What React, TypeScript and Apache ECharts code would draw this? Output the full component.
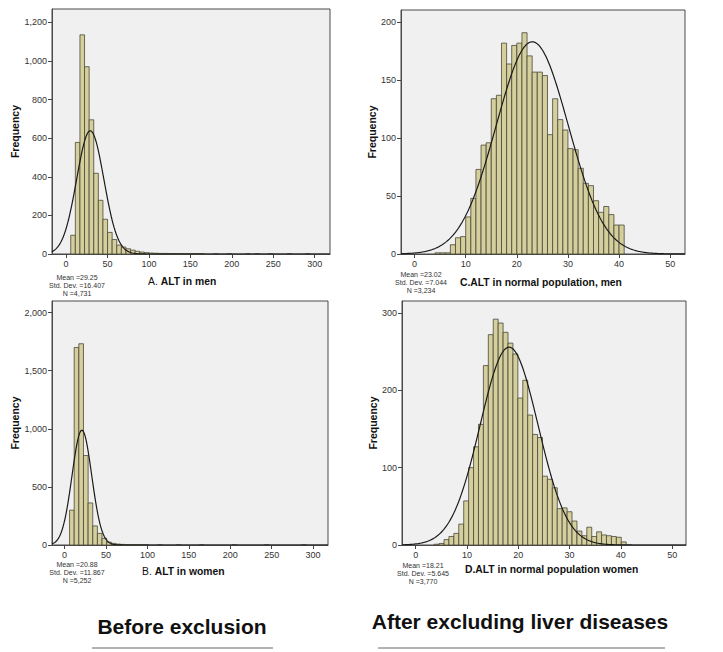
import React, { useEffect, useRef } from "react";
import * as echarts from "echarts";

const FONT = '"Liberation Sans", Arial, Helvetica, sans-serif';

// ---- Histogram counts (one entry per bin) ----
// A. ALT in men, before exclusion
const binStartA = 5.7;
const binWidthA = 5.55;
const countsA = [
  97, 578, 1135, 970, 695, 418, 278, 180, 112, 75,
  46, 36, 27, 20, 14, 10, 7, 5, 4, 3,
  3, 2, 2, 2, 1, 1, 1, 1, 1, 0,
  0, 1, 0, 0, 1, 0, 0, 0, 1, 0,
  1, 0, 0, 1, 0, 0, 0, 1, 0, 0,
  0, 1, 0,
];

// B. ALT in women, before exclusion
const binStartB = 6.0;
const binWidthB = 5.6;
const countsB = [
  300, 1700, 1732, 770, 362, 164, 100, 57, 25, 14,
  8, 5, 3, 2, 2, 1, 1, 0, 0, 1,
  0, 0, 0, 1, 0, 0, 0, 0, 1, 0,
  0, 0, 0, 0, 0, 1, 0, 0, 0, 0,
  0, 0, 1, 0, 0, 0, 0, 0, 0, 0,
  1,
];

// C. ALT in normal population, men
const binStartC = 4;
const binWidthC = 1;
const countsC = [
  1, 1, 1, 8, 14, 15, 32, 48, 73, 94,
  96, 134, 137, 182, 164, 180, 182, 191, 171, 157,
  157, 154, 103, 134, 116, 107, 91, 90, 74, 61,
  59, 46, 36, 41, 34, 25, 25,
];

// D. ALT in normal population, women
const binStartD = 3.6;
const binWidthD = 0.96;
const countsD = [
  1, 2, 7, 11, 15, 27, 57, 100, 127, 156,
  232, 272, 292, 287, 275, 261, 247, 190, 213, 168,
  143, 139, 89, 85, 74, 47, 48, 43, 31, 18,
  12, 23, 11, 17, 13, 12, 11, 10, 4,
];

// Summary statistics printed under each histogram
const statsA = { mean: 29.25, sd: 16.407, n: 4731 };
const statsB = { mean: 20.88, sd: 11.867, n: 5252 };
const statsC = { mean: 23.02, sd: 7.044, n: 3234 };
const statsD = { mean: 18.21, sd: 5.645, n: 3770 };

// Tick labels
const xTicksWide = [0, 50, 100, 150, 200, 250, 300];
const xTicksNarrow = [0, 10, 20, 30, 40, 50];
const yTicksA = [0, 200, 400, 600, 800, 1000, 1200];
const yTicksB = [0, 500, 1000, 1500, 2000];
const yTicksC = [0, 50, 100, 150, 200];
const yTicksD = [0, 100, 200, 300];

// Titles
const titleA = ["A. ", "ALT in men"];
const titleB = ["B. ", "ALT in women"];
const titleC = ["", "C.ALT in normal population, men"];
const titleD = ["", "D.ALT in normal population women"];
const groupLeft = "Before exclusion";
const groupRight = "After excluding liver diseases";

const fmtNum = (v: number) => v.toLocaleString("en-US");

const panels = [
  {
    counts: countsA, start: binStartA, width: binWidthA, stats: statsA,
    xMin: -16.9, xMax: 318.4, yMax: 1269, xTicks: xTicksWide, yTicks: yTicksA,
    grid: { left: 52, top: 9, width: 278, height: 245 }, nameGap: 22,
    title: titleA, titlePos: [148, 281], statsPos: [77, 277],
  },
  {
    counts: countsB, start: binStartB, width: binWidthB, stats: statsB,
    xMin: -15.2, xMax: 318.0, yMax: 2100, xTicks: xTicksWide, yTicks: yTicksB,
    grid: { left: 52, top: 301, width: 276, height: 244 }, nameGap: 24,
    title: titleB, titlePos: [142, 571], statsPos: [77, 564],
  },
  {
    counts: countsC, start: binStartC, width: binWidthC, stats: statsC,
    xMin: -2.66, xMax: 52.9, yMax: 210.6, xTicks: xTicksNarrow, yTicks: yTicksC,
    grid: { left: 401, top: 10, width: 284, height: 244 }, nameGap: 17,
    title: titleC, titlePos: [460, 282], statsPos: [421, 274],
  },
  {
    counts: countsD, start: binStartD, width: binWidthD, stats: statsD,
    xMin: -2.67, xMax: 52.7, yMax: 315.5, xTicks: xTicksNarrow, yTicks: yTicksD,
    grid: { left: 402, top: 301, width: 284, height: 244 }, nameGap: 18,
    title: titleD, titlePos: [465, 569], statsPos: [423, 565],
  },
];

// Fitted normal curve, scaled to counts per bin
function normalCurve(p: (typeof panels)[number]) {
  const { mean, sd, n } = p.stats;
  const scale = (n * p.width) / (sd * Math.sqrt(2 * Math.PI));
  const steps = 300;
  const pts: number[][] = [];
  for (let i = 0; i <= steps; i++) {
    const x = p.xMin + ((p.xMax - p.xMin) * i) / steps;
    const z = (x - mean) / sd;
    pts.push([x, scale * Math.exp(-0.5 * z * z)]);
  }
  return pts;
}

function buildOption() {
  const grid: any[] = [];
  const xAxis: any[] = [];
  const yAxis: any[] = [];
  const series: any[] = [];
  const graphic: any[] = [];

  panels.forEach((p, i) => {
    grid.push({
      ...p.grid,
      show: true,
      backgroundColor: "#f0f0f0",
      borderColor: "#4a4a4a",
      borderWidth: 1,
    });
    xAxis.push({
      type: "value",
      gridIndex: i,
      min: p.xMin,
      max: p.xMax,
      position: "bottom",
      axisLine: { show: true, onZero: false, lineStyle: { color: "#4a4a4a", width: 1 } },
      splitLine: { show: false },
      axisTick: { show: true, length: 4, customValues: p.xTicks, lineStyle: { color: "#444" } },
      axisLabel: {
        customValues: p.xTicks, fontSize: 9, color: "#333", margin: 5,
        fontFamily: FONT, formatter: fmtNum,
      },
    });
    yAxis.push({
      type: "value",
      gridIndex: i,
      min: 0,
      max: p.yMax,
      position: "left",
      name: "Frequency",
      nameLocation: "middle",
      nameGap: p.nameGap,
      nameTextStyle: { fontWeight: "bold", fontSize: 10.5, color: "#111", fontFamily: FONT },
      axisLine: { show: true, onZero: false, lineStyle: { color: "#4a4a4a", width: 1 } },
      splitLine: { show: false },
      axisTick: { show: true, length: 4, customValues: p.yTicks, lineStyle: { color: "#444" } },
      axisLabel: {
        customValues: p.yTicks, fontSize: 9, color: "#333", margin: 5,
        fontFamily: FONT, formatter: fmtNum,
      },
    });

    const bins = p.counts
      .map((c, k) => [p.start + k * p.width, p.start + (k + 1) * p.width, c])
      .filter((d) => d[2] > 0);

    series.push({
      type: "custom",
      xAxisIndex: i,
      yAxisIndex: i,
      data: bins,
      encode: { x: [0, 1], y: 2 },
      silent: true,
      z: 2,
      renderItem: (_params: any, api: any) => {
        const top = api.coord([api.value(0), api.value(2)]);
        const bottom = api.coord([api.value(1), 0]);
        return {
          type: "rect",
          shape: { x: top[0], y: top[1], width: bottom[0] - top[0], height: bottom[1] - top[1] },
          style: { fill: "#d4cf9c", stroke: "#4a4839", lineWidth: 0.8 },
        };
      },
    });
    series.push({
      type: "line",
      xAxisIndex: i,
      yAxisIndex: i,
      data: normalCurve(p),
      showSymbol: false,
      symbol: "none",
      silent: true,
      clip: true,
      z: 3,
      lineStyle: { color: "#1a1a1a", width: 1.2 },
    });

    // Panel caption
    const [plain, bold] = p.title;
    graphic.push({
      type: "text",
      x: p.titlePos[0],
      y: p.titlePos[1],
      scaleX: 0.9,
      style: {
        text: plain ? `{r|${plain}}{b|${bold}}` : `{b|${bold}}`,
        rich: {
          r: { fontSize: 11.5, fontFamily: FONT, fill: "#111" },
          b: { fontSize: 11.5, fontFamily: FONT, fontWeight: "bold", fill: "#111" },
        },
        align: "left",
        verticalAlign: "middle",
      },
    });

    // Summary statistics block
    const s = p.stats;
    graphic.push({
      type: "text",
      x: p.statsPos[0],
      y: p.statsPos[1] - 4,
      scaleX: 0.88,
      style: {
        text: `Mean =${s.mean.toFixed(2)}\nStd. Dev. =${s.sd}\nN =${fmtNum(s.n)}`,
        fontSize: 8,
        lineHeight: 8.2,
        fontFamily: FONT,
        fill: "#333",
        align: "center",
        verticalAlign: "top",
      },
    });
  });

  // Group labels with underlines
  graphic.push(
    {
      type: "text", x: 182, y: 626,
      style: { text: groupLeft, fontSize: 21, fontWeight: "bold", fontFamily: FONT, fill: "#111", align: "center", verticalAlign: "middle" },
    },
    {
      type: "text", x: 520, y: 621,
      style: { text: groupRight, fontSize: 21, fontWeight: "bold", fontFamily: FONT, fill: "#111", align: "center", verticalAlign: "middle" },
    },
    { type: "line", shape: { x1: 92, y1: 648, x2: 273, y2: 648 }, style: { stroke: "#666", lineWidth: 1 } },
    { type: "line", shape: { x1: 378, y1: 648, x2: 665, y2: 648 }, style: { stroke: "#666", lineWidth: 1 } }
  );

  return {
    animation: false,
    backgroundColor: "#ffffff",
    grid,
    xAxis,
    yAxis,
    series,
    graphic,
  };
}

export default function App() {
  const ref = useRef<HTMLDivElement>(null);
  useEffect(() => {
    if (!ref.current) return;
    const chart = echarts.init(ref.current, undefined, { renderer: "svg" });
    chart.setOption(buildOption());
    return () => chart.dispose();
  }, []);
  return (
    <div
      ref={ref}
      style={{ position: "fixed", left: 0, top: 0, width: 723, height: 652, background: "#fff" }}
    />
  );
}
